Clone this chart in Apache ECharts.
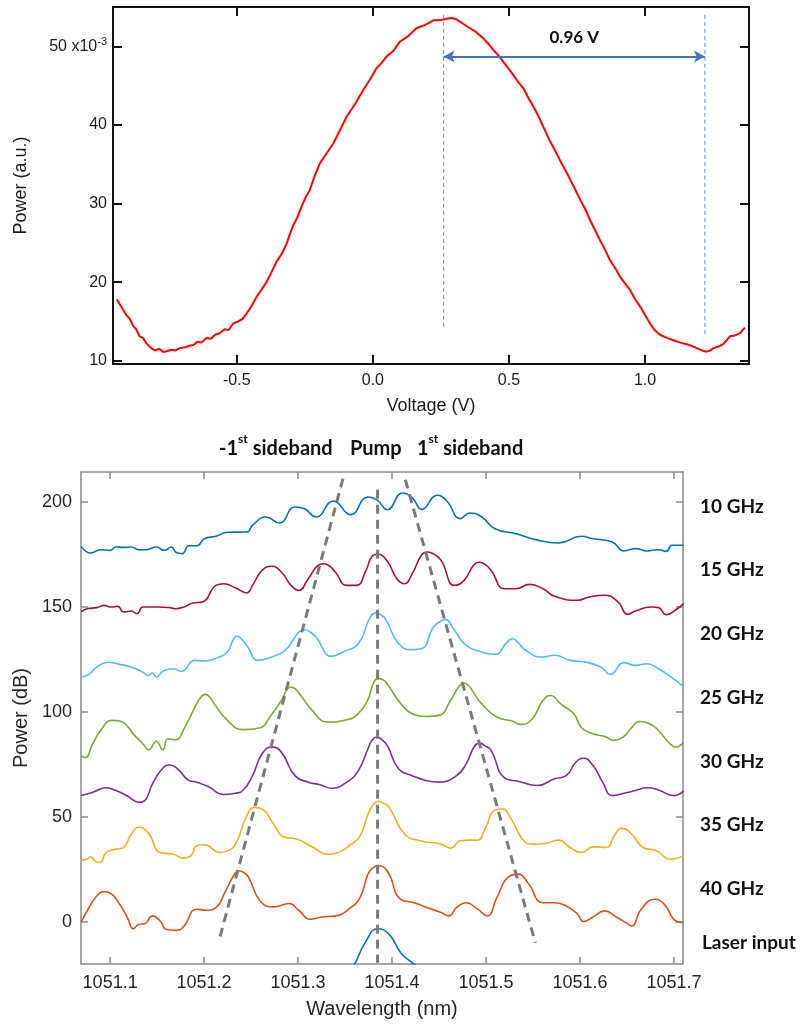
<!DOCTYPE html>
<html>
<head>
<meta charset="utf-8">
<script src="https://cdn.jsdelivr.net/npm/echarts@6/dist/echarts.min.js"></script>
<style>
  html, body { margin: 0; padding: 0; background: #fff; }
  #chart { width: 805px; height: 1025px; }
</style>
</head>
<body>
<div id="chart"></div>
<script>
// ---- Upper panel: modulator transfer curve (power in units of 1e-3) ----
const voltageTicks = [-0.5, 0.0, 0.5, 1.0];
const powerTicksAU = [10, 20, 30, 40, 50];
const transferCurve = [
  [-0.941, 17.8], [-0.925, 16.9], [-0.906, 15.8], [-0.893, 15.3], [-0.881, 14.4], [-0.870, 14.0],
  [-0.857, 13.1], [-0.845, 12.9], [-0.832, 12.2], [-0.818, 11.7], [-0.801, 11.3], [-0.785, 11.5],
  [-0.770, 11.1], [-0.758, 11.2], [-0.740, 11.4], [-0.725, 11.3], [-0.710, 11.6], [-0.690, 11.7],
  [-0.675, 11.9], [-0.660, 12.0], [-0.645, 12.4], [-0.630, 12.3], [-0.611, 12.9], [-0.595, 12.8],
  [-0.580, 13.3], [-0.563, 13.5], [-0.545, 14.0], [-0.530, 13.9], [-0.514, 14.7], [-0.495, 15.0],
  [-0.480, 15.3], [-0.464, 16.0], [-0.445, 17.0], [-0.428, 18.1], [-0.410, 19.0], [-0.391, 20.0],
  [-0.372, 21.3], [-0.354, 22.6], [-0.335, 23.6], [-0.317, 24.9], [-0.305, 26.1], [-0.293, 27.2],
  [-0.278, 28.2], [-0.262, 29.6], [-0.247, 30.8], [-0.232, 31.7], [-0.215, 33.4], [-0.195, 35.1],
  [-0.170, 36.4], [-0.146, 37.6], [-0.120, 39.4], [-0.097, 41.0], [-0.065, 42.7], [-0.036, 44.4],
  [-0.010, 45.8], [0.013, 47.2], [0.030, 47.8], [0.050, 48.7], [0.075, 49.4], [0.099, 50.6],
  [0.130, 51.3], [0.160, 52.3], [0.190, 52.7], [0.222, 53.3], [0.245, 53.3], [0.271, 53.5],
  [0.290, 53.6], [0.308, 53.4], [0.330, 52.9], [0.357, 52.3], [0.380, 51.8], [0.406, 51.0],
  [0.425, 50.3], [0.443, 49.5], [0.460, 48.9], [0.480, 48.0], [0.500, 47.1], [0.517, 46.3],
  [0.535, 45.4], [0.554, 44.6], [0.572, 43.4], [0.590, 42.3], [0.610, 41.0], [0.627, 39.7],
  [0.650, 38.0], [0.676, 36.3], [0.695, 35.0], [0.714, 33.8], [0.740, 32.0], [0.763, 30.4],
  [0.780, 29.3], [0.798, 27.9], [0.815, 26.7], [0.835, 25.3], [0.852, 24.2], [0.871, 22.8],
  [0.890, 21.8], [0.908, 20.7], [0.925, 19.9], [0.945, 19.0], [0.962, 17.9], [0.982, 16.9],
  [1.000, 15.8], [1.018, 14.75], [1.035, 13.9], [1.055, 13.3], [1.080, 12.9], [1.104, 12.6],
  [1.130, 12.3], [1.153, 12.1], [1.170, 11.9], [1.190, 11.6], [1.210, 11.3], [1.226, 11.15],
  [1.240, 11.3], [1.251, 11.6], [1.270, 11.8], [1.287, 12.1], [1.300, 12.6], [1.312, 13.1],
  [1.330, 13.2], [1.349, 13.5], [1.358, 13.9], [1.367, 14.2]
];
// Half-period marker: peak and trough voltages
const peakVoltage = 0.26;
const troughVoltage = 1.22;
const markerTop = 54.0;
const markerBottoms = [13.9, 13.0];
const spanLevel = 48.7;
const spanText = '0.96 V';

// ---- Lower panel: sideband spectra (offset in dB) ----
const wavelengthTicks = [1051.1, 1051.2, 1051.3, 1051.4, 1051.5, 1051.6, 1051.7];
const powerTicksDB = [0, 50, 100, 150, 200];
const spectrumNames = ['10 GHz', '15 GHz', '20 GHz', '25 GHz', '30 GHz', '35 GHz', '40 GHz', 'Laser input'];
const spectrumColors = ['#0072BD', '#A2142F', '#4DBEEE', '#77AC30', '#7E2F8E', '#EDB120', '#D95319', '#0072BD'];

const spec10 = [
  [1051.0693,178.9],[1051.0795,175.7],[1051.0898,177.3],[1051.1000,177.0],[1051.1061,178.6],[1051.1143,178.4],
  [1051.1225,178.6],[1051.1307,177.3],[1051.1389,177.3],[1051.1491,178.6],[1051.1573,177.0],[1051.1655,178.6],
  [1051.1696,176.2],[1051.1766,175.4],[1051.1839,179.2],[1051.1921,179.2],[1051.2003,182.5],[1051.2126,183.7],
  [1051.2249,185.6],[1051.2454,185.7],[1051.2515,188.9],[1051.2658,192.9],[1051.2802,190.0],[1051.2966,197.6],
  [1051.3068,196.8],[1051.3191,192.9],[1051.3375,200.5],[1051.3559,194.0],[1051.3744,202.4],[1051.3846,200.8],
  [1051.3948,196.3],[1051.4112,204.3],[1051.4215,202.0],[1051.4317,196.5],[1051.4481,203.2],[1051.4583,200.5],
  [1051.4727,192.1],[1051.4829,194.8],[1051.4952,193.0],[1051.5095,187.3],[1051.5320,184.9],[1051.5525,182.1],
  [1051.5771,180.5],[1051.6016,183.7],[1051.6139,182.5],[1051.6344,181.0],[1051.6467,176.7],[1051.6590,177.8],
  [1051.6713,176.7],[1051.6835,177.3],[1051.6917,176.5],[1051.6979,179.4],[1051.7102,179.4]
];
const spec15 = [
  [1051.0693,147.6],[1051.0754,149.2],[1051.0857,149.7],[1051.0939,150.8],[1051.1000,150.0],[1051.1082,150.3],
  [1051.1143,147.6],[1051.1225,148.1],[1051.1287,146.8],[1051.1348,150.0],[1051.1512,150.0],[1051.1635,149.7],
  [1051.1696,149.2],[1051.1799,150.3],[1051.1880,151.9],[1051.1983,152.4],[1051.2126,160.3],[1051.2208,161.1],
  [1051.2331,159.2],[1051.2454,156.7],[1051.2515,160.3],[1051.2618,167.5],[1051.2720,169.4],[1051.2822,166.7],
  [1051.2925,160.3],[1051.3007,157.9],[1051.3109,163.5],[1051.3212,169.8],[1051.3273,170.6],[1051.3335,169.5],
  [1051.3396,166.7],[1051.3518,160.3],[1051.3621,160.3],[1051.3723,167.5],[1051.3785,174.0],[1051.3846,175.1],
  [1051.3948,171.9],[1051.4051,163.5],[1051.4133,161.1],[1051.4215,165.9],[1051.4317,175.0],[1051.4378,176.2],
  [1051.4440,175.3],[1051.4522,172.2],[1051.4665,160.3],[1051.4767,162.7],[1051.4870,170.0],[1051.4931,171.3],
  [1051.4993,170.2],[1051.5054,167.5],[1051.5197,158.7],[1051.5320,158.7],[1051.5463,160.8],[1051.5607,158.7],
  [1051.5730,155.1],[1051.5975,153.2],[1051.6098,154.8],[1051.6262,155.6],[1051.6405,152.4],[1051.6508,146.5],
  [1051.6590,148.1],[1051.6754,150.0],[1051.6835,149.7],[1051.6917,146.3],[1051.7020,148.7],[1051.7102,151.6]
];
const spec20 = [
  [1051.0693,116.7],[1051.0775,117.9],[1051.0857,121.4],[1051.0980,123.7],[1051.1102,122.7],[1051.1225,121.4],
  [1051.1348,119.0],[1051.1410,117.5],[1051.1450,118.6],[1051.1491,116.7],[1051.1573,119.8],[1051.1676,120.6],
  [1051.1758,119.4],[1051.1901,124.6],[1051.2003,124.3],[1051.2147,125.9],[1051.2249,128.6],[1051.2310,134.5],
  [1051.2351,136.2],[1051.2392,135.0],[1051.2454,131.7],[1051.2577,124.6],[1051.2699,125.9],[1051.2863,129.4],
  [1051.3000,137.6],[1051.3068,139.2],[1051.3130,138.0],[1051.3191,135.7],[1051.3355,126.5],[1051.3478,128.6],
  [1051.3641,132.5],[1051.3765,145.0],[1051.3826,147.1],[1051.3867,146.6],[1051.3928,144.4],[1051.4071,132.5],
  [1051.4215,129.7],[1051.4317,130.2],[1051.4440,140.5],[1051.4510,143.0],[1051.4563,144.1],[1051.4665,138.9],
  [1051.4788,131.7],[1051.4952,128.6],[1051.5095,127.5],[1051.5220,133.0],[1051.5279,134.9],[1051.5330,133.5],
  [1051.5422,129.4],[1051.5586,126.2],[1051.5730,127.0],[1051.5894,124.6],[1051.6057,123.8],[1051.6221,121.4],
  [1051.6323,117.9],[1051.6467,123.5],[1051.6590,122.2],[1051.6713,123.0],[1051.6835,120.6],[1051.6958,117.0],
  [1051.7102,112.2]
];
const spec25 = [
  [1051.0693,79.3],[1051.0734,78.2],[1051.0816,84.9],[1051.0898,91.2],[1051.1020,96.0],[1051.1102,95.7],
  [1051.1184,93.2],[1051.1246,89.6],[1051.1348,84.9],[1051.1410,82.0],[1051.1491,86.1],[1051.1561,82.0],
  [1051.1614,87.3],[1051.1696,86.8],[1051.1799,93.2],[1051.1921,104.0],[1051.1970,107.3],[1051.2011,108.4],
  [1051.2055,107.4],[1051.2106,104.0],[1051.2249,96.0],[1051.2413,91.6],[1051.2597,92.5],[1051.2699,97.6],
  [1051.2822,105.6],[1051.2880,110.6],[1051.2925,111.9],[1051.2970,111.0],[1051.3027,108.0],[1051.3150,100.8],
  [1051.3314,95.2],[1051.3518,96.3],[1051.3641,99.2],[1051.3744,106.0],[1051.3810,114.6],[1051.3867,115.9],
  [1051.3920,114.8],[1051.3969,112.0],[1051.4092,104.0],[1051.4215,99.2],[1051.4378,97.9],[1051.4501,98.4],
  [1051.4624,105.6],[1051.4710,112.0],[1051.4767,113.8],[1051.4815,112.6],[1051.4870,109.0],[1051.4952,104.0],
  [1051.5115,97.6],[1051.5279,95.7],[1051.5361,94.1],[1051.5484,96.3],[1051.5607,105.6],[1051.5689,107.9],
  [1051.5735,106.8],[1051.5791,104.0],[1051.5934,99.2],[1051.6016,92.5],[1051.6139,89.6],[1051.6262,88.4],
  [1051.6364,86.5],[1051.6467,88.4],[1051.6549,92.5],[1051.6631,95.5],[1051.6754,94.1],[1051.6835,91.2],
  [1051.6958,84.9],[1051.7020,83.3],[1051.7102,85.7]
];
const spec30 = [
  [1051.0693,60.2],[1051.0816,61.8],[1051.0959,63.9],[1051.1061,62.6],[1051.1143,61.0],[1051.1205,59.4],
  [1051.1246,58.1],[1051.1307,57.0],[1051.1369,57.8],[1051.1450,65.8],[1051.1553,72.9],[1051.1635,74.8],
  [1051.1717,72.9],[1051.1839,67.4],[1051.1921,66.6],[1051.2044,64.5],[1051.2208,60.7],[1051.2331,61.3],
  [1051.2413,62.6],[1051.2515,69.7],[1051.2618,80.1],[1051.2720,83.3],[1051.2822,80.9],[1051.2966,69.7],
  [1051.3109,66.6],[1051.3232,65.4],[1051.3355,63.7],[1051.3518,66.6],[1051.3641,72.1],[1051.3744,82.5],
  [1051.3790,86.8],[1051.3838,88.1],[1051.3890,86.9],[1051.3948,84.1],[1051.4071,72.9],[1051.4215,69.7],
  [1051.4358,67.4],[1051.4501,66.6],[1051.4686,69.7],[1051.4788,75.3],[1051.4875,83.6],[1051.4931,85.2],
  [1051.4985,84.0],[1051.5054,81.7],[1051.5197,68.6],[1051.5341,67.0],[1051.5545,65.0],[1051.5730,68.2],
  [1051.5853,69.7],[1051.5955,76.1],[1051.6037,78.0],[1051.6139,74.5],[1051.6241,66.6],[1051.6344,60.2],
  [1051.6467,61.3],[1051.6590,62.6],[1051.6713,63.9],[1051.6835,62.9],[1051.6999,60.2],[1051.7102,62.3]
];
const spec35 = [
  [1051.0693,29.5],[1051.0754,29.9],[1051.0795,31.1],[1051.0836,29.1],[1051.0889,28.3],[1051.0959,33.1],
  [1051.1061,34.7],[1051.1143,35.5],[1051.1225,41.9],[1051.1307,45.1],[1051.1410,42.2],[1051.1532,33.1],
  [1051.1676,32.3],[1051.1778,30.4],[1051.1860,31.5],[1051.1921,36.3],[1051.2003,36.8],[1051.2167,33.1],
  [1051.2269,34.2],[1051.2351,38.7],[1051.2454,50.6],[1051.2536,54.6],[1051.2618,53.8],[1051.2740,46.7],
  [1051.2843,40.6],[1051.2986,39.5],[1051.3150,35.8],[1051.3314,32.3],[1051.3396,32.6],[1051.3559,36.8],
  [1051.3662,41.1],[1051.3744,51.4],[1051.3800,56.0],[1051.3854,57.5],[1051.3905,56.6],[1051.3969,54.6],
  [1051.4133,41.9],[1051.4296,38.7],[1051.4522,37.1],[1051.4624,35.2],[1051.4727,38.7],[1051.4829,39.0],
  [1051.4911,39.0],[1051.4993,44.7],[1051.5095,53.3],[1051.5177,53.8],[1051.5258,49.8],[1051.5402,38.7],
  [1051.5504,37.1],[1051.5627,37.4],[1051.5771,39.0],[1051.5894,35.5],[1051.6016,33.1],[1051.6139,35.8],
  [1051.6282,35.5],[1051.6364,41.1],[1051.6446,44.7],[1051.6549,41.9],[1051.6672,35.5],[1051.6815,33.9],
  [1051.6958,29.9],[1051.7102,31.5]
];
const spec40 = [
  [1051.0693,0.2],[1051.0775,6.8],[1051.0857,12.4],[1051.0939,14.5],[1051.1020,13.2],[1051.1102,8.4],
  [1051.1184,2.1],[1051.1246,-3.2],[1051.1307,-1.1],[1051.1369,-0.8],[1051.1450,2.9],[1051.1532,0.5],
  [1051.1594,-3.5],[1051.1696,-4.0],[1051.1778,-2.4],[1051.1921,6.1],[1051.2024,5.6],[1051.2126,6.8],
  [1051.2229,14.8],[1051.2320,22.5],[1051.2372,24.4],[1051.2420,23.6],[1051.2474,21.2],[1051.2597,10.0],
  [1051.2740,7.2],[1051.2904,8.8],[1051.3007,5.6],[1051.3129,1.3],[1051.3252,2.4],[1051.3396,2.9],
  [1051.3559,6.8],[1051.3662,11.9],[1051.3744,22.8],[1051.3795,25.8],[1051.3846,26.8],[1051.3948,24.4],
  [1051.4092,10.8],[1051.4235,9.2],[1051.4378,6.8],[1051.4522,4.5],[1051.4604,2.9],[1051.4686,6.8],
  [1051.4788,9.2],[1051.4911,6.1],[1051.5013,2.9],[1051.5115,11.6],[1051.5238,21.5],[1051.5341,22.8],
  [1051.5443,18.8],[1051.5607,9.2],[1051.5730,9.2],[1051.5853,7.6],[1051.5975,3.7],[1051.6037,0.2],
  [1051.6139,2.4],[1051.6262,5.3],[1051.6385,2.4],[1051.6487,-0.3],[1051.6549,-1.9],[1051.6651,6.1],
  [1051.6795,10.8],[1051.6897,8.4],[1051.7020,0.5],[1051.7102,-0.3]
];
const laserInput = [
  [1051.3518,-26.0],[1051.3600,-20.2],[1051.3723,-9.1],[1051.3846,-3.2],[1051.3969,-5.9],
  [1051.4092,-14.6],[1051.4215,-19.4],[1051.4296,-22.0]
];
const spectra = [spec10, spec15, spec20, spec25, spec30, spec35, spec40, laserInput];

// Guide lines tracking the pump and the first-order sidebands
const pumpGuide = [[1051.3846, 205.9], [1051.3846, -19.4]];
const lowerSidebandGuide = [[1051.3478, 211.1], [1051.2155, -9.4]];
const upperSidebandGuide = [[1051.4141, 210.6], [1051.5525, -9.9]];

const labelFont = 'Lato, "Open Sans", sans-serif';
const axisFont = '"Liberation Sans", Arial, sans-serif';

const chart = echarts.init(document.getElementById('chart'), null, { renderer: 'canvas' });

function frameAxis(gridIndex, position, min, max, ticks, color, width, tickLen, labels) {
  return {
    type: 'value', gridIndex, position, min, max,
    axisLine: { show: true, onZero: false, lineStyle: { color, width } },
    axisTick: { show: true, inside: true, length: tickLen, customValues: ticks, lineStyle: { color, width } },
    axisLabel: labels ? Object.assign({ customValues: ticks }, labels) : { show: false },
    splitLine: { show: false }
  };
}

const topLabel = { fontSize: 16, color: '#1a1a1a', fontFamily: axisFont };
const botLabel = { fontSize: 18, color: '#262626', fontFamily: axisFont };

const xTop = frameAxis(0, 'bottom', -0.955, 1.382, voltageTicks, '#111', 2, 9,
  Object.assign({ margin: 9, formatter: v => v.toFixed(1) }, topLabel));
xTop.name = 'Voltage (V)';
xTop.nameLocation = 'middle';
xTop.nameGap = 33;
xTop.nameTextStyle = { fontSize: 18, color: '#1a1a1a', fontFamily: axisFont };

const yTop = frameAxis(0, 'left', 9.58, 55.0, powerTicksAU, '#111', 2, 9,
  Object.assign({
    margin: 6,
    formatter: v => v === 50 ? '{n|50 x10}{s|-3}' : '{n|' + v + '}',
    rich: {
      n: { fontSize: 16, color: '#1a1a1a', fontFamily: axisFont, lineHeight: 20 },
      s: { fontSize: 11, color: '#1a1a1a', fontFamily: axisFont, lineHeight: 12, verticalAlign: 'top' }
    }
  }, topLabel));
yTop.name = 'Power (a.u.)';
yTop.nameLocation = 'middle';
yTop.nameGap = 83;
yTop.nameTextStyle = { fontSize: 18, color: '#1a1a1a', fontFamily: axisFont };

const xBot = frameAxis(1, 'bottom', 1051.069, 1051.7096, wavelengthTicks, '#8a8a8a', 1.5, 7,
  Object.assign({ margin: 10, formatter: v => v.toFixed(1) }, botLabel));
xBot.name = 'Wavelength (nm)';
xBot.nameLocation = 'middle';
xBot.nameGap = 35;
xBot.nameTextStyle = { fontSize: 20, color: '#262626', fontFamily: axisFont };

const yBot = frameAxis(1, 'left', -20, 214.3, powerTicksDB, '#8a8a8a', 1.5, 7,
  Object.assign({ margin: 9 }, botLabel));
yBot.name = 'Power (dB)';
yBot.nameLocation = 'middle';
yBot.nameGap = 46;
yBot.nameTextStyle = { fontSize: 20, color: '#262626', fontFamily: axisFont };

const spectrumSeries = spectra.map((data, i) => ({
  name: spectrumNames[i],
  type: 'line', xAxisIndex: 2, yAxisIndex: 2,
  data, showSymbol: false, smooth: 0.5,
  lineStyle: { color: spectrumColors[i], width: 1.6 },
  itemStyle: { color: spectrumColors[i] },
  z: 2
}));

const guideStyle = { color: '#7a7a7a', width: 3, type: [9, 6] };
const guideSeries = [pumpGuide, lowerSidebandGuide, upperSidebandGuide].map(data => ({
  type: 'line', xAxisIndex: 2, yAxisIndex: 2, data,
  showSymbol: false, lineStyle: guideStyle, z: 5, silent: true
}));

const markerStyle = { color: '#5b8ddb', width: 1, type: [4, 3] };

function sup(base, tail) {
  return '{b|' + base + '}{s|st}{b|' + tail + '}';
}
const headRich = {
  b: { fontSize: 20, fontWeight: 'bold', fontFamily: labelFont, fill: '#111', lineHeight: 25, verticalAlign: 'bottom' },
  s: { fontSize: 12, fontWeight: 'bold', fontFamily: labelFont, fill: '#111', lineHeight: 12, verticalAlign: 'top' }
};
const rightLabelY = [507, 570, 634, 698, 762, 825, 889, 943];

const graphics = [
  { type: 'text', x: 219, y: 446, style: { text: sup('-1', ' sideband'), rich: headRich, verticalAlign: 'middle' } },
  { type: 'text', x: 350, y: 446, style: { text: '{b|Pump}', rich: headRich, verticalAlign: 'middle' } },
  { type: 'text', x: 417, y: 446, style: { text: sup('1', ' sideband'), rich: headRich, verticalAlign: 'middle' } }
].concat(spectrumNames.map((name, i) => ({
  type: 'text', x: i === 7 ? 702 : 700, y: rightLabelY[i],
  style: { text: name, fontSize: 19, fontWeight: 'bold', fontFamily: labelFont, fill: '#111', verticalAlign: 'middle' }
})));

chart.setOption({
  animation: false,
  backgroundColor: '#ffffff',
  grid: [
    { left: 113, top: 7, width: 636, height: 357 },
    { left: 81, top: 472, width: 602, height: 492 }
  ],
  xAxis: [
    xTop,
    frameAxis(0, 'top', -0.955, 1.382, voltageTicks, '#111', 2, 9, null),
    xBot,
    frameAxis(1, 'top', 1051.069, 1051.7096, wavelengthTicks, '#8a8a8a', 1.5, 7, null)
  ],
  yAxis: [
    yTop,
    frameAxis(0, 'right', 9.58, 55.0, powerTicksAU, '#111', 2, 9, null),
    yBot,
    frameAxis(1, 'right', -20, 214.3, powerTicksDB, '#8a8a8a', 1.5, 7, null)
  ],
  series: [
    {
      type: 'line', xAxisIndex: 0, yAxisIndex: 0,
      data: transferCurve, showSymbol: false,
      lineStyle: { color: '#ff0000', width: 2 }, z: 3
    },
    {
      type: 'line', xAxisIndex: 0, yAxisIndex: 0,
      data: [[peakVoltage, markerTop], [peakVoltage, markerBottoms[0]]],
      showSymbol: false, lineStyle: markerStyle, z: 2, silent: true,
      markLine: {
        silent: true, symbol: ['arrow', 'arrow'], symbolSize: [9, 11],
        lineStyle: { color: '#4472c4', width: 2, type: 'solid' },
        label: {
          show: true, position: 'insideMiddleTop', distance: 11, formatter: spanText,
          fontSize: 17, fontWeight: 'bold', fontFamily: labelFont, color: '#111'
        },
        data: [[{ coord: [peakVoltage, spanLevel] }, { coord: [troughVoltage, spanLevel] }]]
      }
    },
    {
      type: 'line', xAxisIndex: 0, yAxisIndex: 0,
      data: [[troughVoltage, markerTop], [troughVoltage, markerBottoms[1]]],
      showSymbol: false, lineStyle: markerStyle, z: 2, silent: true
    }
  ].concat(spectrumSeries, guideSeries),
  graphic: graphics
});
</script>
</body>
</html>
